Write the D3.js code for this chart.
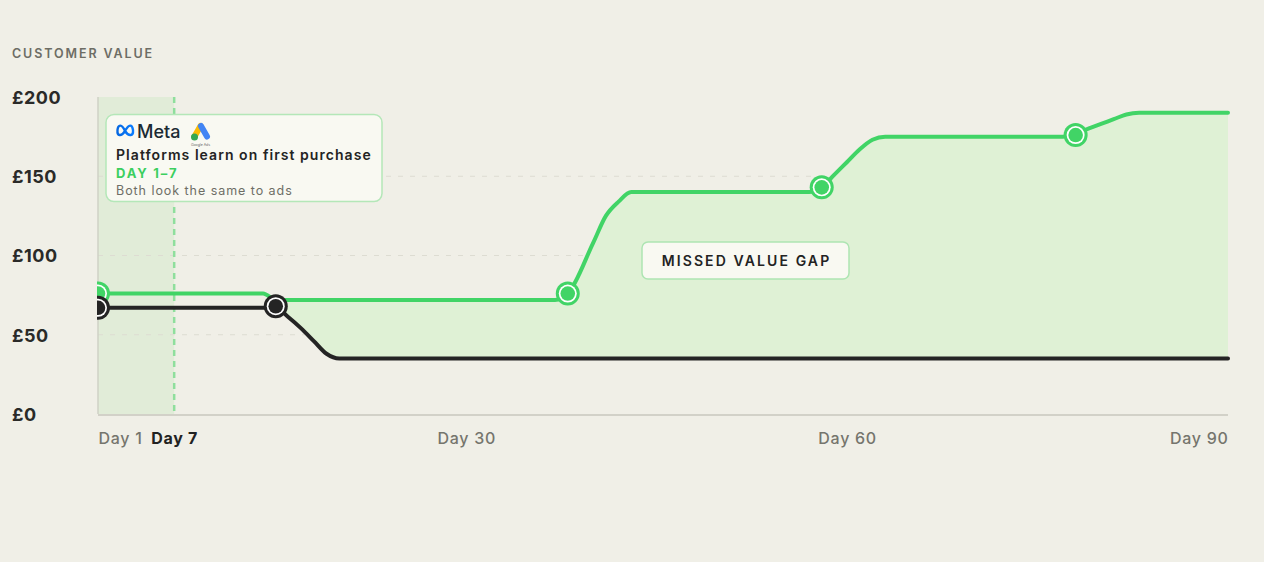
<!DOCTYPE html>
<html>
<head>
<meta charset="utf-8">
<script src="https://cdn.jsdelivr.net/npm/d3@7"></script>
<style>
  html, body { margin: 0; padding: 0; background: #f0efe7; }
  svg { display: block; font-family: Inter, "Noto Sans", sans-serif; }
</style>
</head>
<body>
<div id="chart"></div>
<script>
// series data: [day, £ value]
const greenSeries = [
    [1, 76], [14, 76], [15, 72], [37, 72], [38, 76], [40, 108], [41, 125], [42, 134], [43, 140],
    [57, 140], [58, 143], [59, 151], [60, 159], [61, 167], [62, 173], [63, 175],
    [77, 175], [78, 177], [79, 180], [80, 183], [81, 186], [82, 189], [83, 190], [90, 190]
];
const blackSeries = [
    [1, 67], [15, 67], [16, 61], [17, 54], [18, 46], [19, 38], [20, 35], [90, 35]
];
const greenMarkers = [[1, 76], [38, 76], [58, 143], [78, 176]];
const blackMarkers = [[1, 67], [15, 68]];
const gapStartDay = 15;
const learnWindow = [1, 7];
const yTicks = [0, 50, 100, 150, 200];
const gridTicks = [50, 100, 150];
const xTicks = [1, 7, 30, 60, 90];

const W = 1264, H = 562;
const GREEN = '#41d466', DARK = '#242424';

const svg = d3.select('#chart').append('svg')
    .attr('width', W)
    .attr('height', H);

const x = d3.scaleLinear().domain([1, 90]).range([98, 1228]);
const y = d3.scaleLinear().domain([0, 200]).range([414, 97]);

const defs = svg.append('defs');
defs.append('clipPath').attr('id', 'plot-clip')
    .append('rect').attr('x', x(1) - 1).attr('y', 0).attr('width', W).attr('height', H);

// region above the black line, used to cut the gap fill
defs.append('clipPath').attr('id', 'above-black')
    .append('path')
    .attr('d', d3.area()
        .x(d => x(d[0]))
        .y0(0)
        .y1(d => y(d[1]))
        .curve(d3.curveMonotoneX)(blackSeries));

svg.append('text')
    .attr('x', 12).attr('y', 57.5)
    .attr('font-size', 12.5).attr('font-weight', 600)
    .attr('letter-spacing', 1.9)
    .attr('fill', '#6d6d65')
    .text('CUSTOMER VALUE');

// learning window band
svg.append('rect')
    .attr('x', x(learnWindow[0])).attr('y', y(200))
    .attr('width', x(learnWindow[1]) - x(learnWindow[0]))
    .attr('height', y(0) - y(200))
    .attr('fill', '#e1ecd8');

// gridlines
svg.append('g').selectAll('line')
    .data(gridTicks)
    .join('line')
    .attr('x1', x(1)).attr('x2', x(90))
    .attr('y1', d => y(d)).attr('y2', d => y(d))
    .attr('stroke', '#dddcd2')
    .attr('stroke-width', 1)
    .attr('stroke-dasharray', '5,7');

// missed value gap fill
svg.append('path')
    .attr('clip-path', 'url(#above-black)')
    .attr('fill', '#dff1d5')
    .attr('d', d3.area()
        .x(d => x(d[0]))
        .y0(y(0))
        .y1(d => y(d[1]))
        .curve(d3.curveMonotoneX)(greenSeries.filter(d => d[0] >= gapStartDay)));

// day 7 marker
svg.append('line')
    .attr('x1', x(learnWindow[1])).attr('x2', x(learnWindow[1]))
    .attr('y1', y(200)).attr('y2', y(0))
    .attr('stroke', '#8fdf9d')
    .attr('stroke-width', 2.5)
    .attr('stroke-dasharray', '6,5');

// axes
const yAxis = svg.append('g')
    .attr('transform', `translate(${x(1)},0)`)
    .call(d3.axisLeft(y).tickValues(yTicks).tickFormat(d => `£${d}`).tickSize(0));
yAxis.select('.domain').remove();
yAxis.selectAll('text')
    .attr('x', 12 - x(1))
    .attr('dy', '0.36em')
    .attr('text-anchor', 'start')
    .attr('font-family', 'Inter, "Noto Sans", sans-serif')
    .attr('font-size', 18).attr('font-weight', 700)
    .attr('letter-spacing', 0.5)
    .attr('fill', '#2a2a28');

svg.append('line')
    .attr('x1', x(1)).attr('x2', x(1))
    .attr('y1', y(200)).attr('y2', y(0))
    .attr('stroke', '#cfd2c6').attr('stroke-width', 1.5);
svg.append('line')
    .attr('x1', x(1)).attr('x2', x(90))
    .attr('y1', y(0) + 1).attr('y2', y(0) + 1)
    .attr('stroke', '#d2d1c8').attr('stroke-width', 2);

const xAxis = svg.append('g')
    .attr('transform', `translate(0,${y(0)})`)
    .call(d3.axisBottom(x).tickValues(xTicks).tickFormat(d => `Day ${d}`).tickSize(0));
xAxis.select('.domain').remove();
xAxis.selectAll('text')
    .attr('y', 24)
    .attr('dy', '0.36em')
    .attr('font-family', 'Inter, "Noto Sans", sans-serif')
    .attr('font-size', 16)
    .attr('letter-spacing', 0.7)
    .attr('font-weight', d => d === 7 ? 700 : 500)
    .attr('fill', d => d === 7 ? '#222' : '#75756d')
    .attr('text-anchor', d => d === 1 ? 'start' : d === 90 ? 'end' : 'middle');

// lines
const line = d3.line()
    .x(d => x(d[0]))
    .y(d => y(d[1]))
    .curve(d3.curveMonotoneX);

const plot = svg.append('g').attr('clip-path', 'url(#plot-clip)');

plot.append('path')
    .attr('d', line(greenSeries))
    .attr('fill', 'none')
    .attr('stroke', GREEN)
    .attr('stroke-width', 4)
    .attr('stroke-linecap', 'round')
    .attr('stroke-linejoin', 'round');

plot.append('path')
    .attr('d', line(blackSeries))
    .attr('fill', 'none')
    .attr('stroke', DARK)
    .attr('stroke-width', 4)
    .attr('stroke-linecap', 'round')
    .attr('stroke-linejoin', 'round');

function drawMarkers(data, color) {
    const g = plot.append('g').selectAll('g')
        .data(data)
        .join('g')
        .attr('transform', d => `translate(${x(d[0])},${y(d[1])})`);
    g.append('circle').attr('r', 12).attr('fill', color);
    g.append('circle').attr('r', 9).attr('fill', '#ffffff');
    g.append('circle').attr('r', 7.3).attr('fill', color);
}
drawMarkers(greenMarkers, GREEN);
drawMarkers(blackMarkers, DARK);

// platform note
const note = svg.append('g');
note.append('rect')
    .attr('x', 106).attr('y', 114.5)
    .attr('width', 276).attr('height', 87)
    .attr('rx', 8)
    .attr('fill', '#f9f9f2')
    .attr('stroke', '#b4e7b8')
    .attr('stroke-width', 1.5);

// meta mark
const metaGrad = defs.append('linearGradient').attr('id', 'meta-grad')
    .attr('x1', '0%').attr('x2', '100%');
metaGrad.append('stop').attr('offset', '0%').attr('stop-color', '#0668e1');
metaGrad.append('stop').attr('offset', '100%').attr('stop-color', '#0a7cff');
note.append('path')
    .attr('d', 'M125,131 C122,124 118,124 117.5,130 C117,136 121,137 125,131 C129,124 132,124 133,130 C133.5,136 129,137 125,131 Z')
    .attr('fill', 'none')
    .attr('stroke', 'url(#meta-grad)')
    .attr('stroke-width', 2.4)
    .attr('stroke-linejoin', 'round');
note.append('text')
    .attr('x', 137).attr('y', 138)
    .attr('font-size', 18).attr('font-weight', 500)
    .attr('fill', '#1c2b33')
    .text('Meta');

// google ads mark
note.append('line')
    .attr('x1', 194.5).attr('y1', 136.5).attr('x2', 200.5).attr('y2', 126)
    .attr('stroke', '#fbbc04').attr('stroke-width', 6).attr('stroke-linecap', 'round');
note.append('line')
    .attr('x1', 201).attr('y1', 126).attr('x2', 207).attr('y2', 136.5)
    .attr('stroke', '#4285f4').attr('stroke-width', 6).attr('stroke-linecap', 'round');
note.append('circle')
    .attr('cx', 194.5).attr('cy', 137).attr('r', 3.5)
    .attr('fill', '#34a853');
note.append('text')
    .attr('x', 200.5).attr('y', 145.5)
    .attr('text-anchor', 'middle')
    .attr('font-size', 3.5)
    .attr('fill', '#666')
    .text('Google Ads');

note.append('text')
    .attr('x', 116).attr('y', 160)
    .attr('font-size', 14).attr('font-weight', 600)
    .attr('letter-spacing', 1.05)
    .attr('fill', '#232323')
    .text('Platforms learn on first purchase');
note.append('text')
    .attr('x', 116).attr('y', 177.5)
    .attr('font-size', 13).attr('font-weight', 700)
    .attr('letter-spacing', 1.8)
    .attr('fill', '#3ccf5f')
    .text('DAY 1–7');
note.append('text')
    .attr('x', 116).attr('y', 194.5)
    .attr('font-size', 12.5).attr('font-weight', 400)
    .attr('letter-spacing', 0.95)
    .attr('fill', '#6e6e66')
    .text('Both look the same to ads');

// gap label
const gap = svg.append('g');
gap.append('rect')
    .attr('x', 642).attr('y', 242)
    .attr('width', 207).attr('height', 37)
    .attr('rx', 6)
    .attr('fill', '#f9f9f2')
    .attr('stroke', '#aee5b3')
    .attr('stroke-width', 1.5);
gap.append('text')
    .attr('x', 746.5).attr('y', 266)
    .attr('text-anchor', 'middle')
    .attr('font-size', 14).attr('font-weight', 600)
    .attr('letter-spacing', 2.1)
    .attr('fill', '#232323')
    .text('MISSED VALUE GAP');
</script>
</body>
</html>
